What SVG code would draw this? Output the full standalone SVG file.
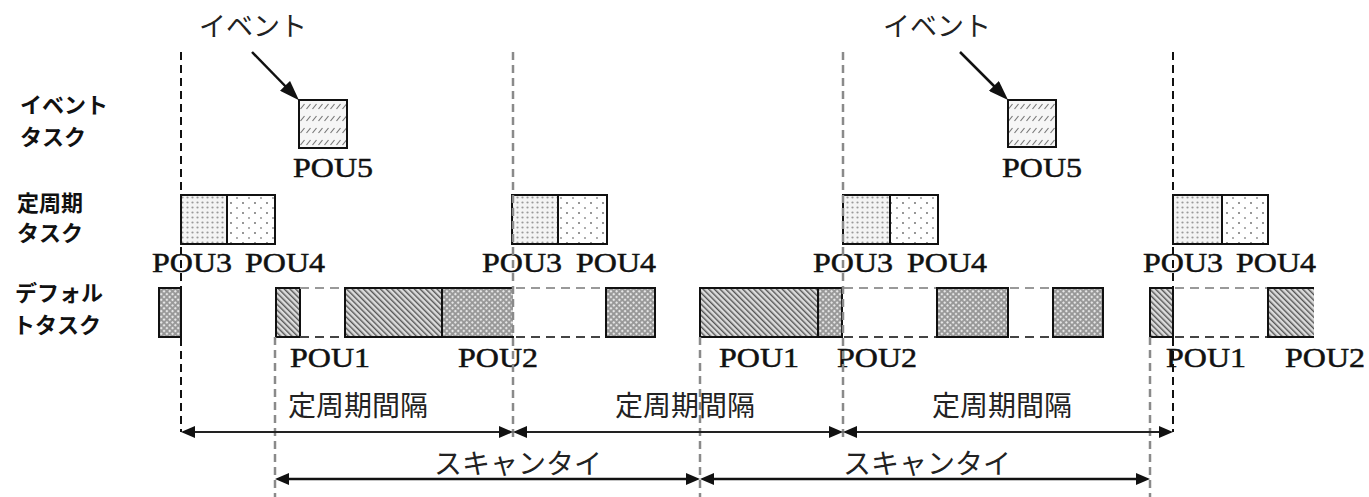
<svg xmlns="http://www.w3.org/2000/svg" width="1369" height="497" viewBox="0 0 1369 497">
<style>
.lbl{font-family:"Noto Sans CJK JP","Noto Sans CJK SC",sans-serif;font-weight:700;font-size:22px;fill:#111}
.jp{font-family:"Noto Sans CJK JP","Noto Sans CJK SC",sans-serif;font-weight:400;fill:#222}
.top{font-size:27px}
.dim{font-size:28px}
.pou{font-family:"Liberation Serif",serif;font-size:28px;fill:#111;stroke:#111;stroke-width:0.5}
.box{stroke:#111;stroke-width:2}
.edge{stroke:#111;stroke-width:2;fill:none}
.vb{stroke:#111;stroke-width:2;stroke-dasharray:8 5;fill:none}
.vg{stroke:#8a8a8a;stroke-width:2.5;stroke-dasharray:8 5;fill:none}
.it{stroke:#999;stroke-width:2;stroke-dasharray:9 6;fill:none}
.ib{stroke:#444;stroke-width:2;stroke-dasharray:9 6;fill:none}
.arr{stroke:#222;stroke-width:2;fill:none;marker-start:url(#ah);marker-end:url(#ah)}
.arr2{stroke:#111;stroke-width:2.5;fill:none;marker-start:url(#ah);marker-end:url(#ah)}
.ev{stroke:#111;stroke-width:2.5;fill:none;marker-end:url(#ahb)}
</style>
<defs>
<marker id="ah" viewBox="0 0 14 12" refX="6" refY="6" markerWidth="14" markerHeight="12" markerUnits="userSpaceOnUse" orient="auto-start-reverse"><path d="M0,0 L14,6 L0,12 z" fill="#111"/></marker>
<marker id="ahb" viewBox="0 0 20 14" refX="10" refY="7" markerWidth="20" markerHeight="14" markerUnits="userSpaceOnUse" orient="auto"><path d="M0,0 L20,7 L0,14 z" fill="#111"/></marker>
<pattern id="p1" width="4" height="4" patternUnits="userSpaceOnUse" patternTransform="rotate(-45)"><rect width="4" height="4" fill="#dcdcdc"/><rect width="1.4" height="4" fill="#555"/></pattern>
<pattern id="p2" width="4" height="4" patternUnits="userSpaceOnUse" patternTransform="rotate(45)"><rect width="4" height="4" fill="#959595"/><rect x="0.9" y="0.9" width="2.2" height="2.2" fill="#e6e6e6"/></pattern>
<pattern id="p3" width="5" height="5" patternUnits="userSpaceOnUse"><rect width="5" height="5" fill="#f4f4f4"/><circle cx="2.5" cy="2.5" r="1.1" fill="#9a9a9a"/></pattern>
<pattern id="p4" width="12" height="10" patternUnits="userSpaceOnUse"><rect width="12" height="10" fill="#fff"/><circle cx="3" cy="3" r="0.9" fill="#666"/><circle cx="9" cy="8" r="0.9" fill="#888"/></pattern>
<pattern id="p5" width="6" height="12" patternUnits="userSpaceOnUse" y="100"><rect width="6" height="12" fill="#f6f6f6"/><path d="M0.5,9 L4.5,4" stroke="#777" stroke-width="1.2"/></pattern>
</defs>

<g id="row-labels">
<text class="lbl" x="20" y="113">イベント</text>
<text class="lbl" x="20" y="145">タスク</text>
<text class="lbl" x="17" y="211">定周期</text>
<text class="lbl" x="17" y="241">タスク</text>
<text class="lbl" x="15" y="301">デフォル</text>
<text class="lbl" x="13" y="333">トタスク</text>
</g>

<g id="event-labels">
<text class="jp top" x="199" y="36">イベント</text>
<text class="jp top" x="883" y="36">イベント</text>
</g>

<g id="event-task-1">
<rect x="299" y="100" width="48" height="48" fill="url(#p5)" class="box"/>
<text class="pou" x="293" y="177" textLength="80" lengthAdjust="spacingAndGlyphs">POU5</text>
</g>
<g id="event-task-2">
<rect x="1008" y="100" width="48" height="47" fill="url(#p5)" class="box"/>
<text class="pou" x="1002" y="177" textLength="80" lengthAdjust="spacingAndGlyphs">POU5</text>
</g>

<g id="fixed-task-1">
<rect x="181" y="195" width="46" height="49" fill="url(#p3)" class="box"/>
<rect x="227" y="195" width="48" height="49" fill="url(#p4)" class="box"/>
<text class="pou" x="152" y="272" textLength="80" lengthAdjust="spacingAndGlyphs">POU3</text>
<text class="pou" x="245" y="272" textLength="80" lengthAdjust="spacingAndGlyphs">POU4</text>
</g>
<g id="fixed-task-2">
<rect x="512" y="195" width="46" height="49" fill="url(#p3)" class="box"/>
<rect x="558" y="195" width="49" height="49" fill="url(#p4)" class="box"/>
<text class="pou" x="482" y="272" textLength="80" lengthAdjust="spacingAndGlyphs">POU3</text>
<text class="pou" x="576" y="272" textLength="80" lengthAdjust="spacingAndGlyphs">POU4</text>
</g>
<g id="fixed-task-3">
<rect x="843" y="195" width="47" height="49" fill="url(#p3)" class="box"/>
<rect x="890" y="195" width="48" height="49" fill="url(#p4)" class="box"/>
<text class="pou" x="813" y="272" textLength="80" lengthAdjust="spacingAndGlyphs">POU3</text>
<text class="pou" x="907" y="272" textLength="80" lengthAdjust="spacingAndGlyphs">POU4</text>
</g>
<g id="fixed-task-4">
<rect x="1173" y="195" width="49" height="49" fill="url(#p3)" class="box"/>
<rect x="1222" y="195" width="46" height="49" fill="url(#p4)" class="box"/>
<text class="pou" x="1143" y="272" textLength="80" lengthAdjust="spacingAndGlyphs">POU3</text>
<text class="pou" x="1236" y="272" textLength="80" lengthAdjust="spacingAndGlyphs">POU4</text>
</g>

<g id="default-task">
<rect x="159" y="288" width="22" height="49" fill="url(#p2)" class="box"/>
<rect x="276" y="288" width="24" height="49" fill="url(#p1)" class="box"/>
<path class="it" d="M300,288 H345"/><path class="ib" d="M300,337 H345"/>
<rect x="345" y="288" width="97" height="49" fill="url(#p1)" class="box"/>
<rect x="442" y="288" width="71" height="49" fill="url(#p2)"/>
<path class="edge" d="M442,288 V337 M441,288 H514 M441,337 H514"/>
<path class="it" d="M516,288 H606"/><path class="ib" d="M516,337 H606"/>
<rect x="606" y="288" width="49" height="49" fill="url(#p2)" class="box"/>
<rect x="700" y="288" width="118" height="49" fill="url(#p1)" class="box"/>
<rect x="818" y="288" width="24" height="49" fill="url(#p2)" class="box"/>
<path class="it" d="M844,288 H937"/><path class="ib" d="M844,337 H937"/>
<rect x="937" y="288" width="71" height="49" fill="url(#p2)" class="box"/>
<path class="it" d="M1010,288 H1053"/><path class="ib" d="M1010,337 H1053"/>
<rect x="1053" y="288" width="50" height="49" fill="url(#p2)" class="box"/>
<rect x="1150" y="288" width="23" height="49" fill="url(#p1)" class="box"/>
<path class="it" d="M1175,288 H1268"/><path class="ib" d="M1175,337 H1268"/>
<rect x="1268" y="288" width="46" height="49" fill="url(#p1)"/>
<path class="edge" d="M1314,288 H1268 V337 H1314"/>
<text class="pou" x="290" y="367" textLength="80" lengthAdjust="spacingAndGlyphs">POU1</text>
<text class="pou" x="458" y="367" textLength="80" lengthAdjust="spacingAndGlyphs">POU2</text>
<text class="pou" x="719" y="367" textLength="80" lengthAdjust="spacingAndGlyphs">POU1</text>
<text class="pou" x="837" y="367" textLength="80" lengthAdjust="spacingAndGlyphs">POU2</text>
<text class="pou" x="1166" y="367" textLength="80" lengthAdjust="spacingAndGlyphs">POU1</text>
<text class="pou" x="1285" y="367" textLength="80" lengthAdjust="spacingAndGlyphs">POU2</text>
</g>

<g id="guides">
<path class="vb" d="M181,52 V432"/>
<path class="vb" d="M1173,52 V432"/>
<path class="vg" d="M513,52 V440"/>
<path class="vg" d="M843,52 V440"/>
<path class="vg" d="M275,337 V497"/>
<path class="vg" d="M700,337 V497"/>
<path class="vg" d="M1150,337 V497"/>
</g>

<g id="dimension-labels">
<text class="jp dim" x="288" y="416">定周期間隔</text>
<text class="jp dim" x="615" y="416">定周期間隔</text>
<text class="jp dim" x="932" y="416">定周期間隔</text>
<text class="jp dim" x="434" y="474">スキャンタイ</text>
<text class="jp dim" x="843" y="474">スキャンタイ</text>
</g>

<g id="connectors">
<line class="ev" x1="252" y1="52" x2="292" y2="93"/>
<line class="ev" x1="960" y1="52" x2="1001" y2="93"/>
<line class="arr" x1="189" y1="432" x2="505" y2="432"/>
<line class="arr" x1="521" y1="432" x2="835" y2="432"/>
<line class="arr" x1="851" y1="432" x2="1165" y2="432"/>
<line class="arr2" x1="283" y1="479" x2="692" y2="479"/>
<line class="arr2" x1="708" y1="479" x2="1142" y2="479"/>
</g>
</svg>
